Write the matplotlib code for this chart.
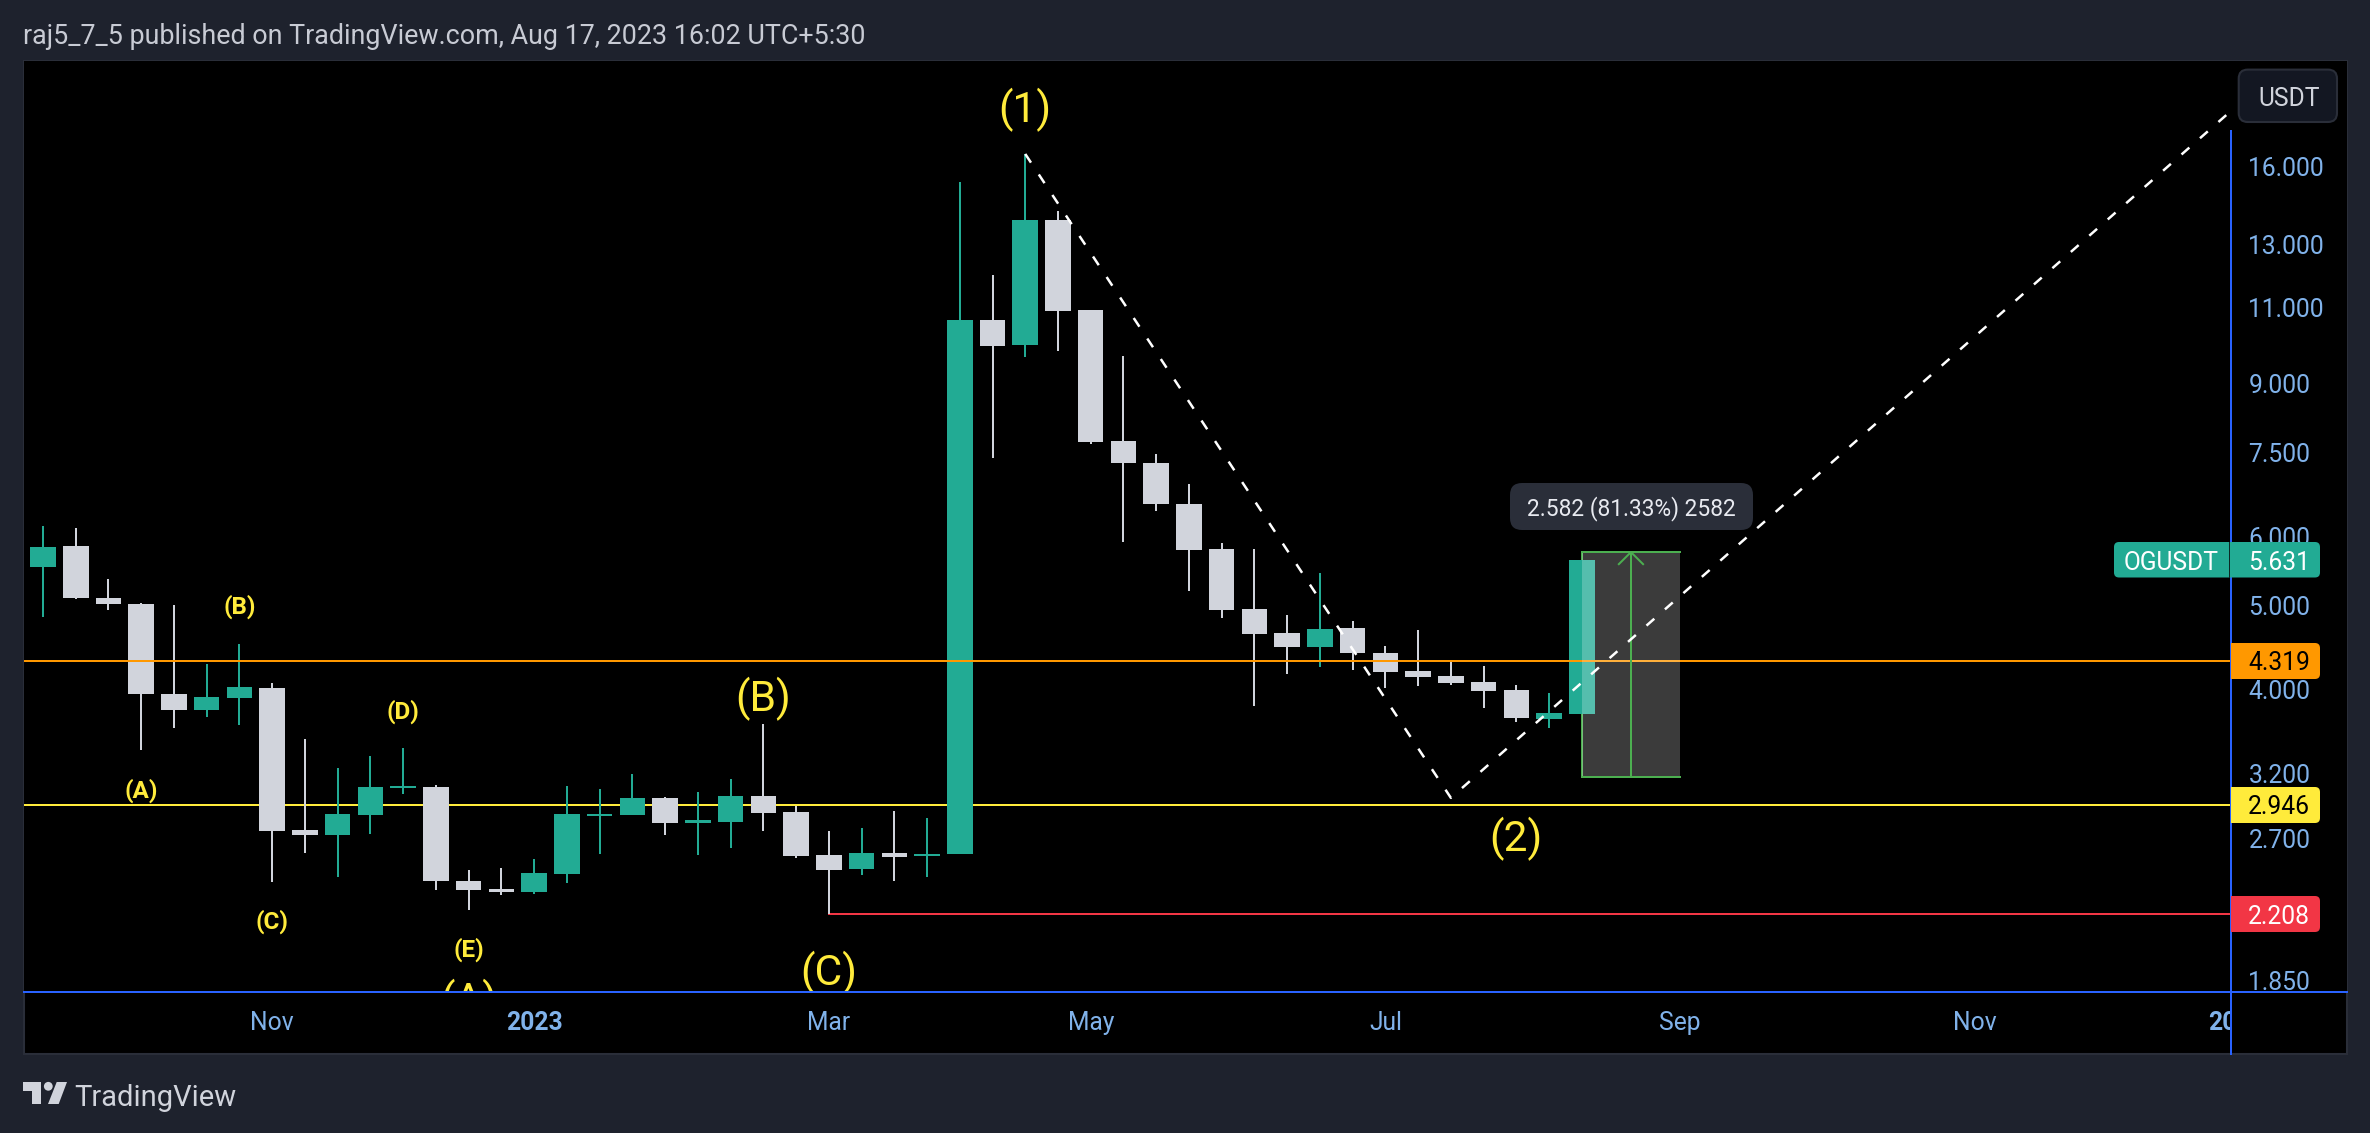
import matplotlib
matplotlib.use("Agg")
import matplotlib.pyplot as plt
from matplotlib.patches import FancyBboxPatch, Rectangle, Polygon, Circle
from matplotlib.transforms import Affine2D, Bbox
from matplotlib.ticker import FixedLocator, FixedFormatter, NullLocator

W, H = 2370, 1133
plt.rcParams['font.family'] = ['Roboto', 'DejaVu Sans']
plt.rcParams['lines.scale_dashes'] = False

# ---------- data ----------
opens = [5.534, 5.851, 5.098, 5.018, 3.954, 3.790, 3.912, 4.017, 2.759, 2.722, 2.871, 3.083,
         3.091, 2.410, 2.360, 2.341, 2.455, 2.863, 2.871, 3.003, 2.811, 2.818, 3.019, 2.893,
         2.582, 2.488, 2.596, 2.575, 2.589, 10.645, 9.962, 13.87, 10.93, 7.726, 7.289, 6.540,
         5.804, 4.952, 4.647, 4.478, 4.709, 4.407, 4.202, 4.147, 4.081, 3.996, 3.700, 3.750]
closes = [5.835, 5.098, 5.018, 3.954, 3.790, 3.923, 4.028, 2.752, 2.722, 2.878, 3.091, 3.099,
          2.410, 2.354, 2.341, 2.462, 2.878, 2.878, 3.003, 2.811, 2.833, 3.019, 2.886, 2.575,
          2.482, 2.596, 2.568, 2.589, 10.645, 9.936, 13.87, 10.90, 7.705, 7.289, 6.540, 5.789,
          4.938, 4.634, 4.478, 4.696, 4.407, 4.191, 4.136, 4.071, 3.985, 3.710, 3.760, 5.631]
highs = [6.169, 6.136, 5.361, 5.031, 5.005, 4.281, 4.514, 4.071, 3.510, 3.251, 3.356, 3.427,
         3.108, 2.482, 2.495, 2.555, 3.099, 3.075, 3.199, 3.011, 3.051, 3.158, 3.652, 2.940,
         2.752, 2.773, 2.901, 2.848, 15.336, 11.99, 16.52, 14.20, 10.93, 9.675, 7.464, 6.895,
         5.897, 5.804, 4.874, 5.447, 4.796, 4.490, 4.684, 4.303, 4.258, 4.049, 3.964, 5.631]
lows = [4.852, 5.085, 4.939, 3.410, 3.614, 3.720, 3.643, 2.404, 2.596, 2.436, 2.730, 3.034,
        2.354, 2.232, 2.323, 2.329, 2.398, 2.589, 2.871, 2.722, 2.582, 2.630, 2.752, 2.561,
        2.208, 2.449, 2.410, 2.436, 2.589, 7.386, 9.650, 9.805, 7.665, 5.913, 6.418, 5.193,
        4.835, 3.830, 4.169, 4.247, 4.213, 4.017, 4.038, 4.049, 3.810, 3.671, 3.614, 3.750]

price_ticks = [16, 13, 11, 9, 7.5, 6, 5, 4, 3.2, 2.7, 1.85]
price_labels = ['16.000', '13.000', '11.000', '9.000', '7.500', '6.000', '5.000',
                '4.000', '3.200', '2.700', '1.850']
time_ticks = [7, 15, 24, 32, 41, 50, 59, 67]
time_labels = ['Nov', '2023', 'Mar', 'May', 'Jul', 'Sep', 'Nov', '2024']

orange_level, yellow_level, red_level = 4.319, 2.946, 2.208
red_start = 24
wave_x = [30, 43, 67]
wave_y = [16.52, 3.003, 18.76]
measure_x = [47, 50]
measure_y = [3.174, 5.756]
big_labels = [('(1)', 30, 18.55), ('(2)', 45, 2.69), ('(B)', 22, 3.90), ('(C)', 24, 1.888), ('(A)', 13, 1.753)]
small_labels = [('(A)', 3, 3.059), ('(B)', 6, 4.978), ('(C)', 7, 2.162), ('(D)', 11, 3.770), ('(E)', 13, 2.008)]

# ---------- style ----------
BG = '#1e222d'
EDGE = '#2a2e39'
UP = '#22ab94'
DOWN = '#d1d4dc'
BLUE = '#2962ff'
YEL = '#ffeb3b'
ORG = '#ff9800'
RED = '#f23645'
GRN = '#4caf50'
AXC = '#80b2ea'
LW = 1.44
FS = 17.7

fig = plt.figure(figsize=(W / 100, H / 100), dpi=100, facecolor=BG)
px = Affine2D().scale(1 / W, -1 / H).translate(0, 1) + fig.transFigure

# panel
fig.add_artist(Rectangle((23.5, 61), 2347 - 23.5, 1054 - 61, transform=px, fc='black', ec=EDGE, lw=1.5, zorder=-1))

ax = fig.add_axes([23.5 / W, (H - 992) / H, (2347 - 23.5) / W, (992 - 61) / H], facecolor='black')
ax.set_yscale('log')
x_left, x_right = -0.596, 70.37
ax.set_xlim(x_left, x_right)
ax.set_ylim(1.796, 21.13)
for s in ax.spines.values():
    s.set_visible(False)

scale_edge = 66.83

# horizontal levels
ax.plot([x_left, x_right], [yellow_level] * 2, color=YEL, lw=LW, zorder=1.5)
ax.plot([red_start, x_right], [red_level] * 2, color=RED, lw=LW, zorder=1.5)

# measure left edge
ax.plot([measure_x[0]] * 2, measure_y, color=GRN, lw=LW, zorder=1.8)

# candles
for i, (o, c, h, l) in enumerate(zip(opens, closes, highs, lows)):
    col = UP if c >= o else DOWN
    ax.vlines(i, l, h, color=col, lw=LW, zorder=2)
    ax.bar(i, abs(c - o), bottom=min(o, c), width=0.78, color=col, lw=0, zorder=3)

ax.plot([x_left, x_right], [orange_level] * 2, color=ORG, lw=LW, zorder=3.5)

# measure tool
ax.add_patch(Rectangle((measure_x[0], measure_y[0]), measure_x[1] - measure_x[0], measure_y[1] - measure_y[0],
                       fc='white', alpha=0.235, lw=0, zorder=3.6))
ax.plot(measure_x, [measure_y[0]] * 2, color=GRN, lw=LW, zorder=3.7)
ax.plot(measure_x, [measure_y[1]] * 2, color=GRN, lw=LW, zorder=3.7)
mid = sum(measure_x) / 2
ax.plot([mid, mid], measure_y, color=GRN, lw=LW, zorder=3.7)
ax.plot([mid - 0.37, mid, mid + 0.37], [measure_y[1] * 0.9687, measure_y[1], measure_y[1] * 0.9687],
        color=GRN, lw=LW, zorder=3.7)

# wave line
ax.plot(wave_x, wave_y, color='white', lw=1.8, dashes=(7.5, 10.2), zorder=4)

# labels
for t, x, y in big_labels:
    ax.text(x, y, t, color=YEL, fontsize=30.6, ha='center', va='center', zorder=4.5, clip_on=True)
for t, x, y in small_labels:
    ax.text(x, y, t, color=YEL, fontsize=17.5, fontweight='bold', ha='center', va='center', zorder=4.5, clip_on=True)

# price scale cover and lines
ax.axvspan(scale_edge, x_right, color='black', lw=0, zorder=5)
ax.plot([scale_edge] * 2, [1.524, 17.55], color=BLUE, lw=LW, clip_on=False, zorder=7)
ax.plot([x_left, x_right], [1.796] * 2, color=BLUE, lw=LW, clip_on=False, zorder=7)

# axes ticks
ax.yaxis.set_major_locator(FixedLocator(price_ticks))
ax.yaxis.set_major_formatter(FixedFormatter(price_labels))
ax.yaxis.set_minor_locator(NullLocator())
ax.xaxis.set_major_locator(FixedLocator(time_ticks))
ax.xaxis.set_major_formatter(FixedFormatter(time_labels))
ax.tick_params(axis='y', which='both', left=False, right=False, labelleft=False, labelright=True,
               labelsize=FS, labelcolor=AXC, pad=-74.5)
ax.tick_params(axis='x', which='both', bottom=False, top=False, labelsize=FS, labelcolor=AXC, pad=10.5)
ax.xaxis.set_zorder(2)
ax.yaxis.set_zorder(6)
for lab in ax.get_yticklabels():
    lab.set_ha('left')
for lab in ax.get_xticklabels():
    if lab.get_text().isdigit():
        lab.set_fontweight('bold')
    lab.set_clip_box(Bbox([[0, 0], [2231, H]]))
    lab.set_clip_on(True)

# overlays in pixel space
def badge(x0, y0, x1, y1, col, r=4):
    fig.add_artist(FancyBboxPatch((x0 + r, y0 + r), x1 - x0 - 2 * r, y1 - y0 - 2 * r,
                                  boxstyle=f'round,pad={r},rounding_size={r + 1}',
                                  transform=px, fc=col, ec='none', zorder=5))

def ptext(x, y, s, col, fs=FS, ha='left', **kw):
    fig.add_artist(plt.Text(x, y, s, transform=px, color=col, fontsize=fs, ha=ha, va='center_baseline', zorder=6, **kw))

# tooltip
badge(1510, 483, 1753, 530, EDGE, r=11)
ptext(1631.5, 506, '2.582 (81.33%) 2582', '#e8eaf0', fs=16.4, ha='center')

# OGUSDT badge
badge(2114, 542, 2320, 577.5, UP)
fig.add_artist(Rectangle((2228.5, 542), 1.5, 35.5, transform=px, fc='#0b2a25', ec='none', zorder=5.5))
ptext(2124, 560, 'OGUSDT', 'white')
ptext(2248, 560, '5.631', 'white')

for y0, y1, col, tc, s in [(643, 679, ORG, 'black', '4.319'), (787, 823, YEL, 'black', '2.946'), (896, 932, RED, 'white', '2.208')]:
    badge(2231, y0, 2320, y1, col)
    fig.add_artist(Rectangle((2231, y0), 10, y1 - y0, transform=px, fc=col, ec='none', zorder=5.5))
    ptext(2248, (y0 + y1) / 2, s, tc)

# USDT button
fig.add_artist(FancyBboxPatch((2238.7 + 9, 69.6 + 9), 98.3 - 18, 52.4 - 18, boxstyle='round,pad=9,rounding_size=9',
                              transform=px, fc='#131722', ec=EDGE, lw=1.5, zorder=5))
ptext(2289.5, 96, 'USDT', '#d1d4dc', ha='center')

# header and footer
ptext(23, 34, 'raj5_7_5 published on TradingView.com, Aug 17, 2023 16:02 UTC+5:30', '#c8cbd4', fs=19.36)
ptext(74.5, 1095, 'TradingView', '#d1d4dc', fs=21)
fig.add_artist(Polygon([(23, 1082), (41, 1082), (41, 1104), (32, 1104), (32, 1091), (23, 1091)], transform=px, fc='#d1d4dc', ec='none'))
fig.add_artist(Circle((48.3, 1086.3), 4.4, transform=px, fc='#d1d4dc', ec='none'))
fig.add_artist(Polygon([(56.7, 1082), (67, 1082), (58.7, 1104), (48, 1104)], transform=px, fc='#d1d4dc', ec='none'))

fig.savefig('out.png', dpi=100, facecolor=BG)
